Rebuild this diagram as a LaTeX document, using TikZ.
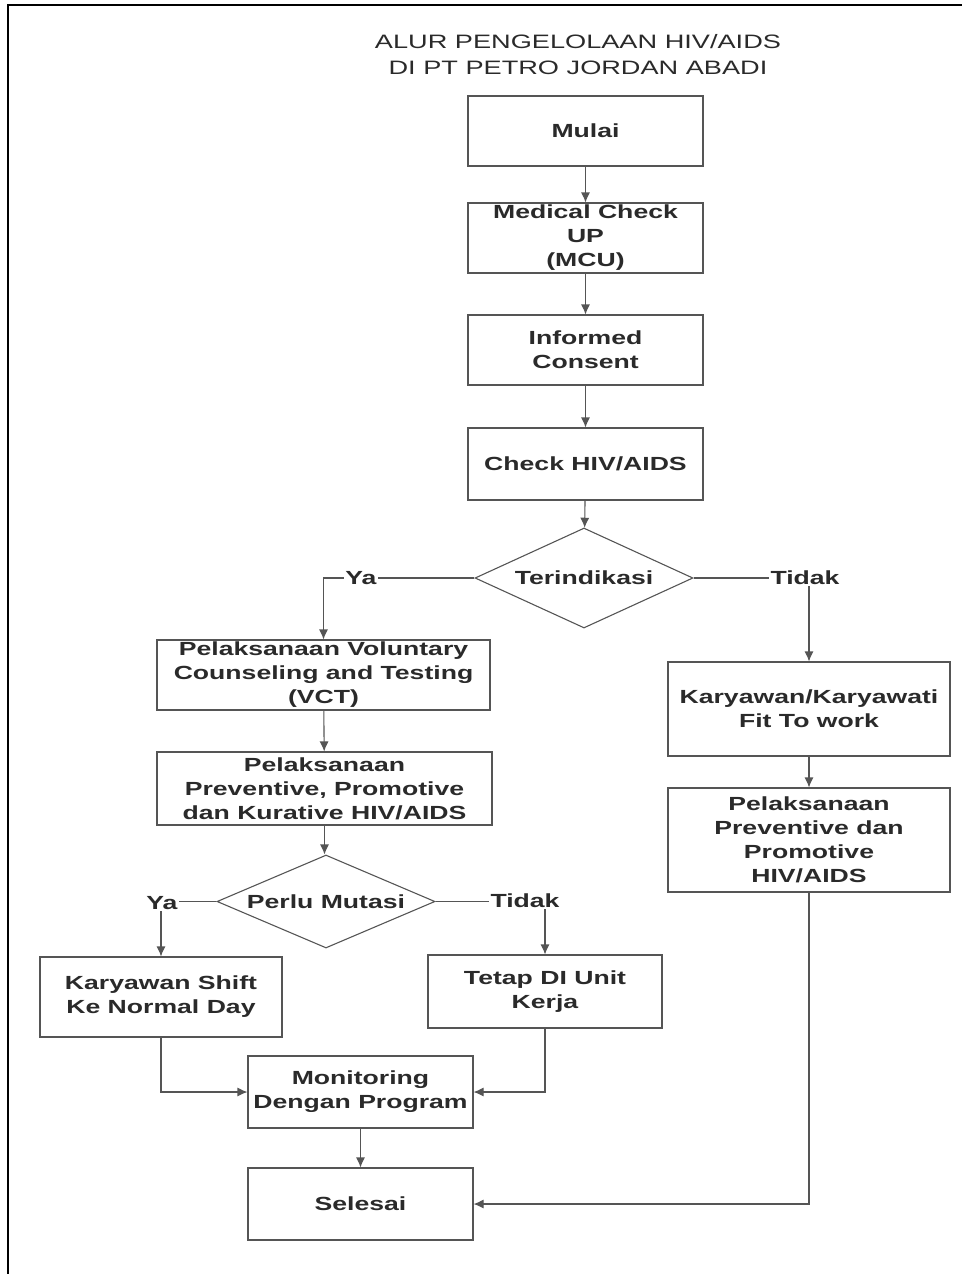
\documentclass[tikz,border=0pt]{standalone}
\usepackage{fontspec}
\setmainfont{Liberation Sans}[FakeStretch=1.4]
\usetikzlibrary{shapes.geometric,arrows.meta}
\definecolor{inkgray}{HTML}{2A2A2A}
\definecolor{linegray}{HTML}{555555}
\newcommand{\boxfont}{\fontsize{19}{24}\selectfont\bfseries}
\newcommand{\headfont}{\fontsize{19.4}{26}\selectfont}

\begin{document}
\begin{tikzpicture}[x=1pt, y=-1pt,
    box/.style={draw=linegray, line width=1.1pt, inner sep=0pt, align=center, text=inkgray, font=\boxfont},
    decision/.style={diamond, aspect=2.3, draw=linegray, line width=1.1pt, inner sep=0pt, text=inkgray, font=\boxfont},
    answer/.style={fill=white, inner sep=1.5pt, text=inkgray, font=\boxfont},
    flow/.style={draw=linegray, line width=1.1pt, -{Latex[length=10pt,width=9pt]}}]
    \useasboundingbox (0,0) rectangle (962,1274);

    % cropped page frame
    \draw[line width=2.5pt] (8,1274) -- (8,5) -- (962,5);

    % title
    \node[align=center, text=inkgray, font=\headfont] (title) at (578,55)
        {ALUR PENGELOLAAN HIV/AIDS\\DI PT PETRO JORDAN ABADI};

    % main column
    \node[box, minimum width=235pt, minimum height=70pt] (mulai) at (585.5,131) {Mulai};
    \node[box, minimum width=235pt, minimum height=70pt] (mcu) at (585.5,238) {Medical Check\\UP\\(MCU)};
    \node[box, minimum width=235pt, minimum height=70pt] (consent) at (585.5,350) {Informed\\Consent};
    \node[box, minimum width=235pt, minimum height=72pt] (check) at (585.5,464) {Check HIV/AIDS};
    \node[decision, minimum width=218pt, minimum height=100pt] (indikasi) at (584,578) {Terindikasi};

    \draw[flow] (mulai) -- (mcu);
    \draw[flow] (mcu) -- (consent);
    \draw[flow] (consent) -- (check);
    \draw[flow] (check) -- (indikasi);

    % Ya branch
    \node[box, minimum width=333pt, minimum height=70pt] (vct) at (323.5,675)
        {Pelaksanaan Voluntary\\Counseling and Testing\\(VCT)};
    \node[box, minimum width=335pt, minimum height=73pt] (kuratif) at (324.5,788.5)
        {Pelaksanaan\\Preventive, Promotive\\dan Kurative HIV/AIDS};
    \node[decision, minimum width=218pt, minimum height=93pt] (mutasi) at (326,901.5) {Perlu Mutasi};
    \node[box, minimum width=242pt, minimum height=80pt] (shift) at (161,997)
        {Karyawan Shift\\Ke Normal Day};
    \node[box, minimum width=234pt, minimum height=73pt] (tetap) at (545,991.5)
        {Tetap DI Unit\\Kerja};
    \node[box, minimum width=225pt, minimum height=72pt] (monitor) at (360.5,1092)
        {Monitoring\\Dengan Program};
    \node[box, minimum width=225pt, minimum height=72pt] (selesai) at (360.5,1204) {Selesai};

    \draw[flow] (indikasi.west) -| (vct.north);
    \node[answer] (ya1) at (361,578) {Ya};
    \draw[flow] (vct) -- (kuratif);
    \draw[flow] (kuratif.south) -- (kuratif.south |- mutasi.north);
    \draw[flow] (mutasi.west) -| (shift.north);
    \node[answer] (ya2) at (162,903) {Ya};
    \draw[flow] (mutasi.east) -| (tetap.north);
    \node[answer] (tidak2) at (525,901) {Tidak};
    \draw[flow] (shift.south) |- (monitor.west);
    \draw[flow] (tetap.south) |- (monitor.east);
    \draw[flow] (monitor) -- (selesai);

    % Tidak branch
    \node[box, minimum width=282pt, minimum height=94pt] (fit) at (809,709)
        {Karyawan/Karyawati\\Fit To work};
    \node[box, minimum width=282pt, minimum height=104pt] (promotif) at (809,840)
        {Pelaksanaan\\Preventive dan\\Promotive\\HIV/AIDS};

    \draw[flow] (indikasi.east) -| (fit.north);
    \node[answer] (tidak1) at (805,578) {Tidak};
    \draw[flow] (fit) -- (promotif);
    \draw[flow] (promotif.south) |- (selesai.east);
\end{tikzpicture}
\end{document}
